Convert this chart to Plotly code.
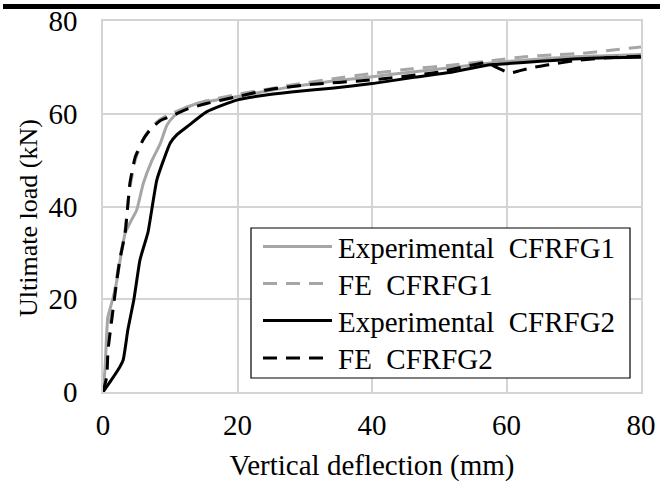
import plotly.graph_objects as go

# Experimental CFRFG1 (gray solid)
exp1_x = [0, 0.3, 0.7, 1.0, 1.8, 2.8, 3.3, 4.2, 5.0, 6.0, 7.3, 8.5, 9.5, 10.5, 12, 14, 17, 20, 24, 28, 34, 40, 46, 52, 58, 64, 70, 75, 80]
exp1_y = [0, 5, 16, 17.7, 22, 30.6, 34.3, 37, 39.2, 45, 50, 53.5, 57.5, 59.4, 61, 62.2, 63, 63.7, 64.8, 65.8, 67, 68, 69, 70, 71, 71.7, 72.3, 72.5, 72.8]

# FE CFRFG1 (gray dashed)
fe1_x = [0, 0.5, 1.0, 1.6, 2.4, 3.2, 4.0, 4.8, 6.0, 7.0, 8.5, 10.5, 12.5, 15.4, 20, 24, 28, 34, 40, 46, 52, 58, 62.6, 66.8, 71, 75.5, 80]
fe1_y = [0, 6, 14, 20.5, 28, 34, 44, 50, 54.5, 56.8, 58.8, 60.2, 61.5, 62.8, 64.2, 65.2, 66.2, 67.5, 68.7, 69.7, 70.5, 71.5, 72.3, 72.7, 73, 73.7, 74.4]

# Experimental CFRFG2 (black solid)
exp2_x = [0, 1.2, 2.5, 3.0, 3.7, 4.6, 5.5, 6.2, 6.7, 8.0, 9.0, 10.0, 11, 12.5, 15.4, 20, 24, 28, 34, 40, 46, 52, 56.5, 58, 60, 65, 70, 75, 80]
exp2_y = [0, 2.5, 5.4, 6.9, 13.4, 20, 28.5, 32, 34.5, 45.7, 50, 53.7, 55.5, 57.2, 60.4, 63, 64, 64.7, 65.5, 66.5, 67.8, 69, 70.3, 70.6, 70.8, 71.3, 71.8, 72.1, 72.2]

# FE CFRFG2 (black dashed)
fe2_x = [0, 0.55, 0.75, 1.3, 1.8, 2.5, 3.3, 4.0, 4.8, 6.0, 7.0, 8.5, 10.5, 12.5, 15.4, 20, 25, 30, 40, 50, 57, 58.5, 60.5, 62, 64, 66, 70.5, 75, 80]
fe2_y = [0, 3.3, 9, 15.5, 21.3, 28.5, 34.3, 45, 50.7, 54.5, 56.5, 58.5, 59.7, 61, 62.2, 63.7, 65.3, 66.2, 67.3, 69, 71.0, 70.0, 68.8, 69.3, 70.0, 70.5, 71.5, 72.1, 72.4]

names = ["Experimental\u00a0 CFRFG1", "FE\u00a0 CFRFG1", "Experimental\u00a0 CFRFG2", "FE\u00a0 CFRFG2"]
colors = ["#a6a6a6", "#a6a6a6", "#000000", "#000000"]
dashes = ["solid", "14px,9px", "solid", "14px,9px"]
series = [(exp1_x, exp1_y), (fe1_x, fe1_y), (exp2_x, exp2_y), (fe2_x, fe2_y)]

x_ticks = [0, 20, 40, 60, 80]
y_ticks = [0, 20, 40, 60, 80]

FONT = "Liberation Serif"
FS = 29
fig = go.Figure()
for (xs, ys), n, c, d in zip(series, names, colors, dashes):
    fig.add_trace(go.Scatter(x=xs, y=ys, mode="lines", name=n,
                             line=dict(color=c, width=3, dash=d, shape="spline", smoothing=0.5),
                             showlegend=False))

W, H = 660, 488
L, R, T, B = 103, 19, 21, 96
pw, ph = W - L - R, H - T - B

def px(xp):
    return (xp - L) / pw

def py(yp):
    return (H - B - yp) / ph

shapes = []
annotations = []
# top black rule
shapes.append(dict(type="rect", xref="paper", yref="paper", x0=px(3), x1=px(660), y0=py(9), y1=py(4),
                   fillcolor="black", line=dict(width=0), layer="above"))
# legend box
shapes.append(dict(type="rect", xref="paper", yref="paper", x0=px(251), x1=px(630), y0=py(378), y1=py(228),
                   fillcolor="white", line=dict(color="black", width=1.2), layer="above"))
rows = [246.5, 283.5, 320.5, 358]
for r, n, c, d in zip(rows, names, colors, dashes):
    shapes.append(dict(type="line", xref="paper", yref="paper", x0=px(263), x1=px(332), y0=py(r), y1=py(r),
                       line=dict(color=c, width=3, dash=d), layer="above"))
    annotations.append(dict(xref="paper", yref="paper", x=px(336), y=py(r + 1), text=n, showarrow=False,
                            xanchor="left", yanchor="middle", font=dict(family=FONT, size=FS, color="black")))

# y-axis title
annotations.append(dict(xref="paper", yref="paper", x=px(28), y=py(218), text="Ultimate load (kN)",
                        showarrow=False, textangle=-90, xanchor="center", yanchor="middle",
                        font=dict(family=FONT, size=26, color="black")))

fig.update_layout(
    width=W, height=H, margin=dict(l=L, r=R, t=T, b=B, autoexpand=False),
    paper_bgcolor="white", plot_bgcolor="white",
    font=dict(family=FONT, size=FS, color="black"),
    shapes=shapes, annotations=annotations,
    xaxis=dict(range=[0, 80], tickvals=x_ticks, ticktext=[str(v) for v in x_ticks],
               showgrid=True, gridcolor="#d4d4d4", gridwidth=1.5, zeroline=False,
               showline=True, linecolor="#d4d4d4", linewidth=1.5, mirror=True, automargin=False,
               ticks="", ticklabelstandoff=6, tickfont=dict(family=FONT, size=FS),
               title=dict(text="Vertical deflection (mm)", font=dict(family=FONT, size=FS), standoff=15)),
    yaxis=dict(range=[0, 80], tickvals=y_ticks, ticktext=[str(v) for v in y_ticks],
               showgrid=True, gridcolor="#d4d4d4", gridwidth=1.5, zeroline=False,
               showline=True, linecolor="#d4d4d4", linewidth=1.5, mirror=True, automargin=False,
               ticks="", ticklabelstandoff=18, tickfont=dict(family=FONT, size=FS)),
)
fig.write_html("out.html")
